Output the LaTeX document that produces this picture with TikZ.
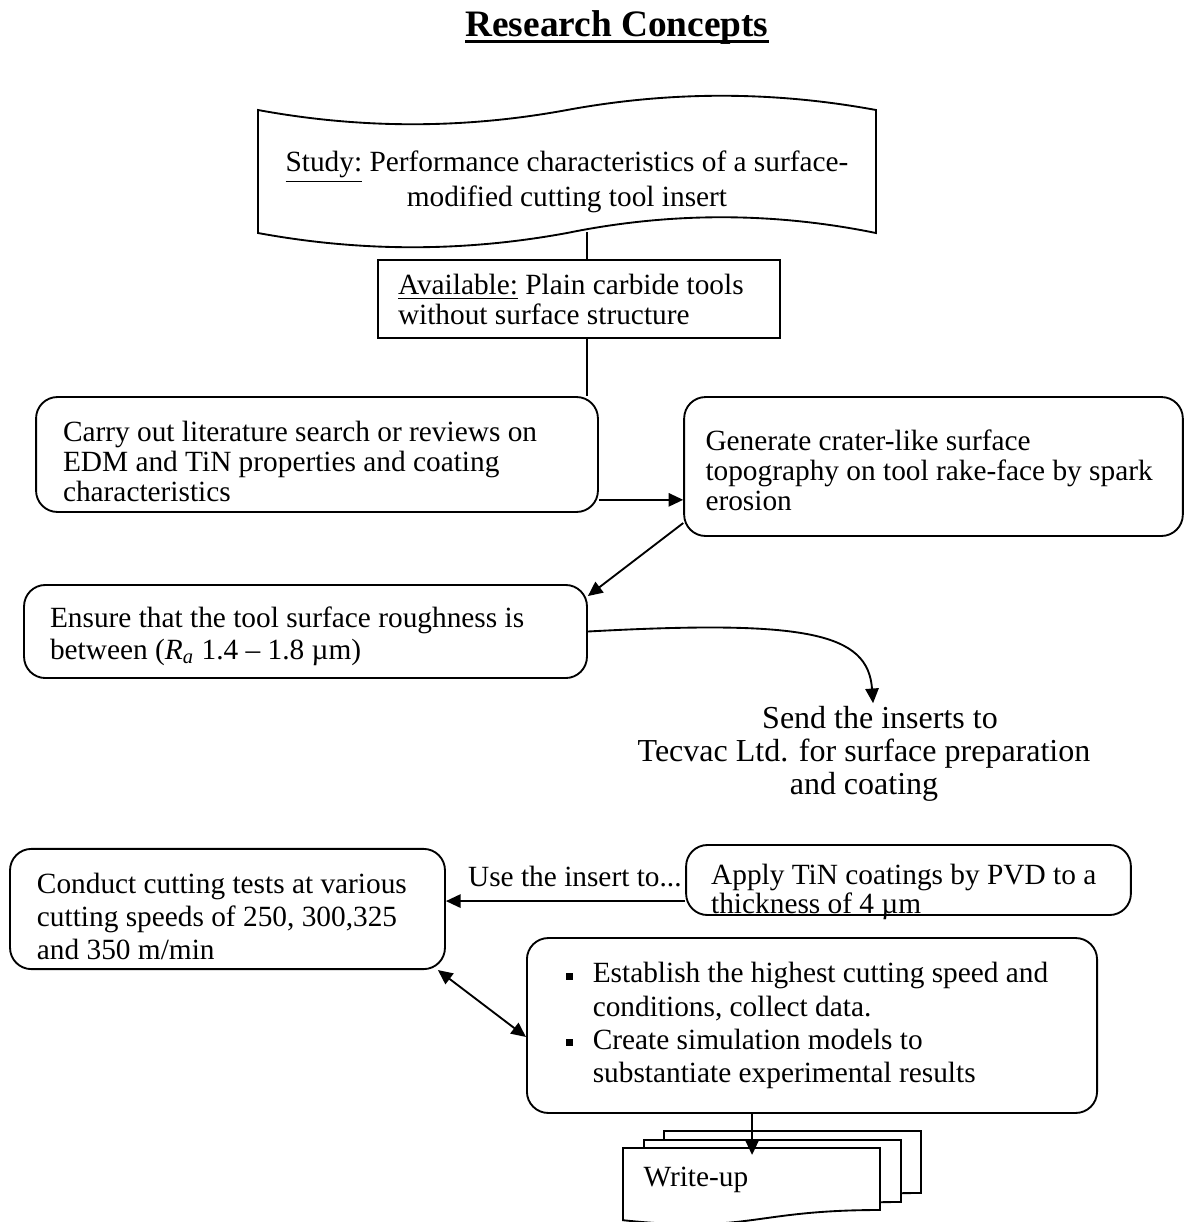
\documentclass[tikz,border=0pt]{standalone}
\usepackage{fontspec}
\setmainfont{Liberation Serif}
\usetikzlibrary{arrows.meta}

\newsavebox{\ulbox}
\newcommand{\thickul}[1]{\sbox{\ulbox}{#1}\rlap{\rule[-2.6pt]{\wd\ulbox}{1.1pt}}\usebox{\ulbox}}
\newcommand{\sqbullet}{\makebox[10.1pt][l]{\rule[1.2pt]{2.6pt}{2.6pt}}}

\begin{document}
\begin{tikzpicture}[x=0.375pt,y=-0.375pt,
  every node/.style={font=\fontsize{11}{11.25}\selectfont},
  flowbox/.style={draw,line width=0.7pt,align=flush left},
  roundbox/.style={flowbox,rounded corners=8pt},
  link/.style={line width=0.7pt,-{Triangle[length=5.5pt,width=5pt]}},
  twolink/.style={line width=0.7pt,{Triangle[length=5.5pt,width=5pt]}-{Triangle[length=5.5pt,width=5pt]}}]

\useasboundingbox (0,0) rectangle (1184,1222);

\node[font=\fontsize{14}{16}\selectfont\bfseries,anchor=base] (title) at (617,36) {\thickul{Research Concepts}};

% study (punched tape)
\node[align=flush center,text width=225pt,inner xsep=3pt,text height=9.5pt,minimum height=39pt] (study) at (567,179)
  {\underline{Study:} Performance characteristics of a surface-\\modified cutting tool insert};
\draw[line width=0.7pt,shift={(study.center)}] (-309,-69) .. controls (-206,-50) and (-103,-50) .. (0,-69)
  .. controls (103,-88) and (206,-88) .. (309,-69) -- (309,54)
  .. controls (206,33) and (103,33) .. (0,54)
  .. controls (-103,73) and (-206,73) .. (-309,54) -- cycle;

\node[flowbox,text width=135.75pt,inner xsep=7.5pt,minimum height=29.25pt] (avail) at (579,299)
  {\underline{Available:} Plain carbide tools\\without surface structure};

\node[roundbox,text height=12.7pt,text width=190.5pt,inner xsep=10.1pt,minimum height=43.1pt] (lit) at (317,454.5)
  {Carry out literature search or reviews on\\EDM and TiN properties and coating\\characteristics};

\node[roundbox,text height=10.5pt,text width=171pt,inner xsep=8pt,minimum height=52.1pt] (gen) at (933.5,466.5)
  {Generate crater-like surface\\topography on tool rake-face by spark\\erosion};

\node[roundbox,font=\fontsize{11}{12}\selectfont,text height=11.3pt,text width=191.6pt,inner xsep=9.75pt,minimum height=34.9pt] (rough) at (305.5,631.5)
  {Ensure that the tool surface roughness is\\between (\textit{R\textsubscript{a}} 1.4 – 1.8 µm)};

\node[align=center,font=\fontsize{12}{12.4}\selectfont,inner sep=1pt] (send) at (864,754)
  {\hspace*{12pt}Send the inserts to\\Tecvac Ltd. for surface preparation\\and coating};

\node[roundbox,font=\fontsize{11}{10.9}\selectfont,text height=13.9pt,text depth=10.9pt,text width=148pt,inner xsep=9.4pt,inner ysep=0pt,minimum height=26.25pt] (apply) at (908.5,880)
  {Apply TiN coatings by PVD to a\\thickness of 4 µm};

\node[roundbox,font=\fontsize{11}{12.4}\selectfont,text height=13.5pt,text width=142.9pt,inner xsep=10.1pt,minimum height=44.25pt] (cut) at (227.5,909)
  {Conduct cutting tests at various\\cutting speeds of 250, 300,325\\and 350 m/min};

\node[roundbox,font=\fontsize{11}{12.4}\selectfont,text width=190pt,inner xsep=11.9pt,minimum height=65.6pt] (res) at (812,1025.5)
  {\hspace*{2.7pt}\sqbullet Establish the highest cutting speed and\\\hspace*{12.8pt}conditions, collect data.\\
   \hspace*{2.7pt}\sqbullet Create simulation models to\\\hspace*{12.8pt}substantiate experimental results};

% write-up pages
\foreach \dx/\dy in {41/-17,21/-8,0/0}
  \draw[line width=0.7pt,fill=white,shift={(623+\dx,1148+\dy)}] (0,0) -- (257,0) -- (257,62)
    .. controls (128.5,62) and (128.5,85.6) .. (0,72.2) -- cycle;
\node[anchor=north west,align=flush left,text width=81.4pt,inner xsep=7.5pt,minimum height=23.25pt] (wu) at (623,1148) {Write-up};

% connectors
\draw[line width=0.7pt] ([xshift=3pt]avail.north) -- ([xshift=3pt]avail.north |- study.south);
\draw[line width=0.7pt] ([xshift=3pt]avail.south) -- ([xshift=3pt]avail.south |- lit.north);
\draw[link] ([yshift=-17pt]lit.east) -- ([yshift=-17pt]lit.east -| gen.west);
\draw[link] ([yshift=5.2pt]gen.south west) -- ([yshift=-4.5pt]rough.north east);
\draw[link] (rough.east) .. controls +(220,-12) and +(-5,-70) .. ([xshift=3.4pt]send.north);
\draw[link] ([yshift=-7.9pt]apply.west) -- ([yshift=-7.9pt]apply.west -| cut.east)
  node[pos=0,anchor=south east,inner xsep=1pt,inner ysep=5pt] {Use the insert to...};
\draw[twolink] ([xshift=-3pt]cut.south east) -- ([yshift=-4.3pt]res.west);
\draw[link] (res.south -| wu.north) -- ([yshift=-2.6pt]wu.north);

\end{tikzpicture}
\end{document}
